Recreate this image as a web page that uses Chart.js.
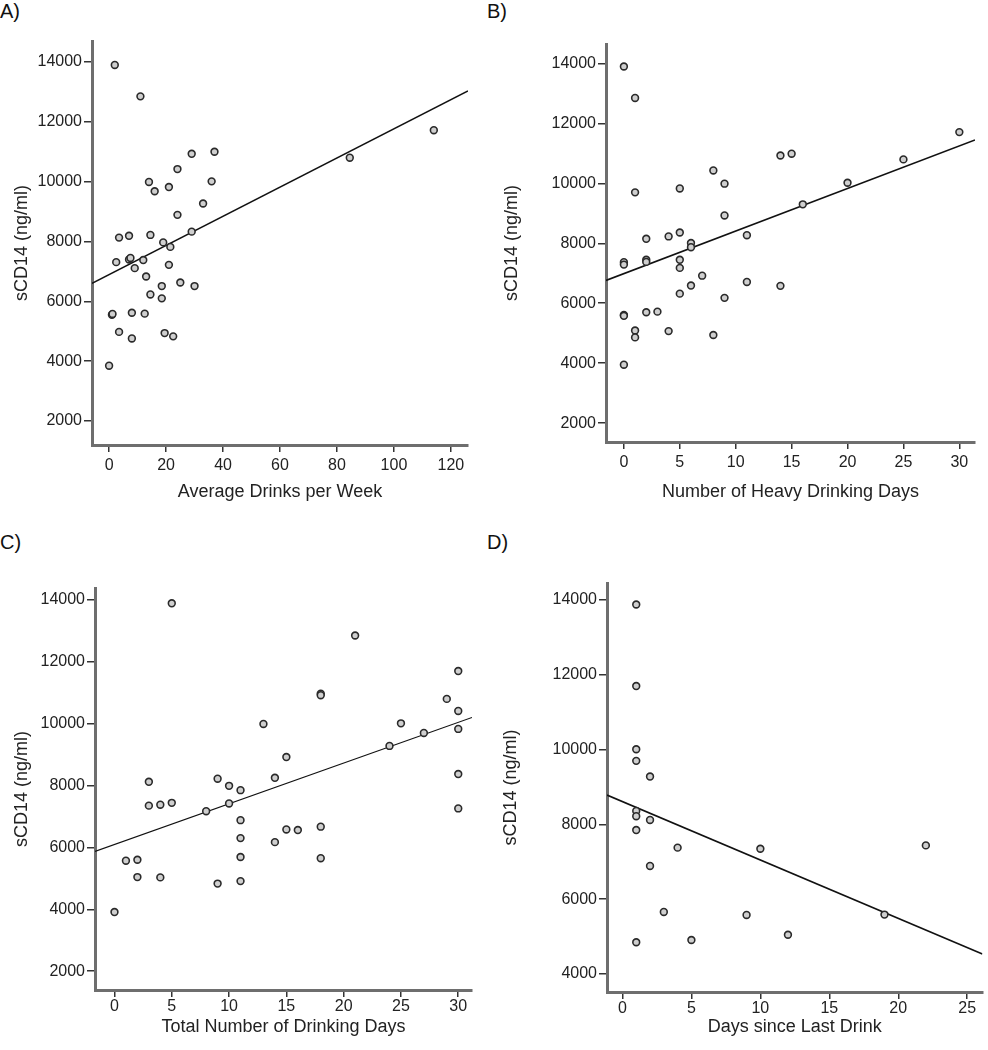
<!DOCTYPE html>
<html>
<head>
<meta charset="utf-8">
<script src="https://cdn.jsdelivr.net/npm/chart.js@4.4.1/dist/chart.umd.min.js"></script>
<style>
  body { margin: 0; background: #fff; }
  #wrap { position: relative; width: 988px; height: 1050px; overflow: hidden; }
  canvas { position: absolute; }
  .tag { position: absolute; font: 20px "Liberation Sans", Arial, sans-serif; color: #111; }
</style>
</head>
<body>
<div id="wrap">
  <div class="tag" style="left:0px;top:0px">A)</div>
  <div class="tag" style="left:487px;top:0px">B)</div>
  <div class="tag" style="left:0px;top:531px">C)</div>
  <div class="tag" style="left:487px;top:531px">D)</div>
  <canvas id="cA" width="490" height="525" style="left:0px;top:0px"></canvas>
  <canvas id="cB" width="501" height="525" style="left:487px;top:0px"></canvas>
  <canvas id="cC" width="490" height="520" style="left:0px;top:530px"></canvas>
  <canvas id="cD" width="501" height="520" style="left:487px;top:530px"></canvas>
</div>
<script>
// A) average drinks per week
const drinksA = [2, 11, 29, 37, 24, 14, 16, 21, 36, 33, 24, 29, 3.5, 7, 14.5, 19, 21.5, 2.5, 7, 7.5, 12, 9, 21, 13, 18.5, 25, 30, 14.5, 18.5, 1, 1.2, 8, 12.5, 3.5, 8, 19.5, 22.5, 0, 84.5, 114];
const scd14A = [13900, 12850, 10930, 11000, 10420, 9990, 9680, 9820, 10010, 9270, 8890, 8330, 8130, 8190, 8220, 7970, 7820, 7310, 7400, 7450, 7380, 7110, 7220, 6830, 6510, 6630, 6510, 6230, 6100, 5550, 5580, 5620, 5590, 4980, 4760, 4940, 4830, 3850, 10800, 11720];
const fitAx = [-6, 126];
const fitAy = [6600, 13030];

// B) heavy drinking days
const heavyB = [0, 1, 1, 5, 8, 9, 9, 11, 2, 4, 5, 6, 6, 0, 0, 2, 2, 5, 5, 7, 6, 11, 5, 9, 0, 0, 2, 3, 1, 1, 4, 8, 0, 14, 15, 25, 30, 20, 16, 14];
const scd14B = [13900, 12850, 9700, 9830, 10430, 9990, 8930, 8270, 8150, 8230, 8360, 8010, 7870, 7370, 7290, 7450, 7380, 7450, 7180, 6920, 6590, 6710, 6320, 6180, 5610, 5580, 5700, 5720, 5090, 4860, 5070, 4940, 3950, 10930, 10990, 10800, 11710, 10020, 9300, 6580];
const fitBx = [-1.6, 31.4];
const fitBy = [6760, 11450];

// C) total drinking days
const daysC = [5, 13, 15, 3, 9, 10, 11, 14, 3, 4, 5, 8, 10, 11, 11, 11, 11, 9, 14, 15, 1, 2, 2, 4, 0, 21, 30, 18, 18, 29, 30, 25, 30, 27, 24, 30, 30, 16, 18, 18];
const scd14C = [13890, 9990, 8920, 8120, 8220, 7990, 7850, 8250, 7350, 7380, 7440, 7170, 7420, 6880, 6300, 5690, 4910, 4830, 6170, 6580, 5570, 5600, 5040, 5030, 3910, 12850, 11700, 10970, 10920, 10800, 10410, 10010, 9830, 9700, 9280, 8370, 7260, 6560, 6670, 5650];
const fitCx = [-1.7, 31.2];
const fitCy = [5870, 10200];

// D) days since last drink
const lastD = [1, 1, 1, 1, 2, 1, 1, 2, 1, 4, 10, 2, 3, 9, 1, 5, 12, 19, 22];
const scd14D = [13880, 11700, 10010, 9700, 9280, 8360, 8220, 8120, 7850, 7380, 7350, 6890, 5660, 5580, 4850, 4910, 5050, 5590, 7440];
const fitDx = [-1.12, 26.1];
const fitDy = [8786, 4534];

const ticksX1 = [0, 20, 40, 60, 80, 100, 120];
const ticksX2 = [0, 5, 10, 15, 20, 25, 30];
const ticksX3 = [0, 5, 10, 15, 20, 25];
const ticksY1 = [2000, 4000, 6000, 8000, 10000, 12000, 14000];
const ticksY2 = [4000, 6000, 8000, 10000, 12000, 14000];

const FONT = '"Liberation Sans", Arial, sans-serif';

function pairs(xs, ys) {
  return xs.map((x, i) => ({ x: x, y: ys[i] }));
}

function panel(id, p) {
  new Chart(document.getElementById(id), {
    type: 'scatter',
    data: {
      datasets: [
        {
          data: pairs(p.xs, p.ys),
          pointRadius: 3.4,
          pointBackgroundColor: '#cfcfcf',
          pointBorderColor: '#2a2a2a',
          pointBorderWidth: 1.6
        },
        {
          type: 'line',
          data: pairs(p.fx, p.fy),
          borderColor: '#111',
          borderWidth: p.lw,
          pointRadius: 0,
          fill: false
        }
      ]
    },
    options: {
      responsive: false,
      animation: false,
      events: [],
      layout: { padding: { left: 0, top: p.top, right: p.right, bottom: 0 } },
      plugins: { legend: { display: false }, tooltip: { enabled: false } },
      scales: {
        x: {
          type: 'linear',
          min: p.xmin, max: p.xmax,
          afterBuildTicks: s => { s.ticks = p.xt.map(v => ({ value: v })); },
          afterFit: s => { s.height = p.xh; },
          border: { display: true, color: '#6e6e6e', width: 3 },
          grid: { drawOnChartArea: false, drawTicks: true, tickLength: 7, color: '#333', lineWidth: 1.5 },
          ticks: { color: '#222', font: { family: FONT, size: 16 }, padding: p.xpad, maxRotation: 0, callback: v => String(v) },
          title: { display: true, text: p.xtitle, color: '#222', font: { family: FONT, size: 18 }, padding: { top: 0, bottom: p.xtb } }
        },
        y: {
          min: p.ymin, max: p.ymax,
          afterBuildTicks: s => { s.ticks = p.yt.map(v => ({ value: v })); },
          afterFit: s => { s.width = p.yw; },
          border: { display: true, color: '#6e6e6e', width: 3 },
          grid: { drawOnChartArea: false, drawTicks: true, tickLength: 8, color: '#333', lineWidth: 1.5 },
          ticks: { color: '#222', font: { family: FONT, size: 16 }, padding: 2, callback: v => String(v) },
          title: { display: true, text: 'sCD14 (ng/ml)', color: '#222', font: { family: FONT, size: 18 }, padding: { top: p.ytp, bottom: 0 } }
        }
      }
    }
  });
}

panel('cA', {
  xs: drinksA, ys: scd14A, fx: fitAx, fy: fitAy, lw: 1.6,
  top: 41, right: 22, yw: 92, xh: 80, xpad: 4, xtb: 22, ytp: 11,
  xmin: -6, xmax: 126, ymin: 1200, ymax: 14700,
  xt: ticksX1, yt: ticksY1, xtitle: 'Average Drinks per Week'
});

panel('cB', {
  xs: heavyB, ys: scd14B, fx: fitBx, fy: fitBy, lw: 1.6,
  top: 44, right: 13, yw: 119, xh: 83, xpad: 4, xtb: 22, ytp: 14,
  xmin: -1.6, xmax: 31.4, ymin: 1370, ymax: 14650,
  xt: ticksX2, yt: ticksY1, xtitle: 'Number of Heavy Drinking Days'
});

panel('cC', {
  xs: daysC, ys: scd14C, fx: fitCx, fy: fitCy, lw: 1.1,
  top: 58, right: 18, yw: 95, xh: 60, xpad: 0, xtb: 12, ytp: 11,
  xmin: -1.7, xmax: 31.2, ymin: 1390, ymax: 14385,
  xt: ticksX2, yt: ticksY1, xtitle: 'Total Number of Drinking Days'
});

panel('cD', {
  xs: lastD, ys: scd14D, fx: fitDx, fy: fitDy, lw: 1.6,
  top: 53, right: 0, yw: 120, xh: 58, xpad: 0, xtb: 12, ytp: 13,
  xmin: -1.12, xmax: 26.1, ymin: 3520, ymax: 14455,
  xt: ticksX3, yt: ticksY2, xtitle: 'Days since Last Drink'
});
</script>
</body>
</html>
